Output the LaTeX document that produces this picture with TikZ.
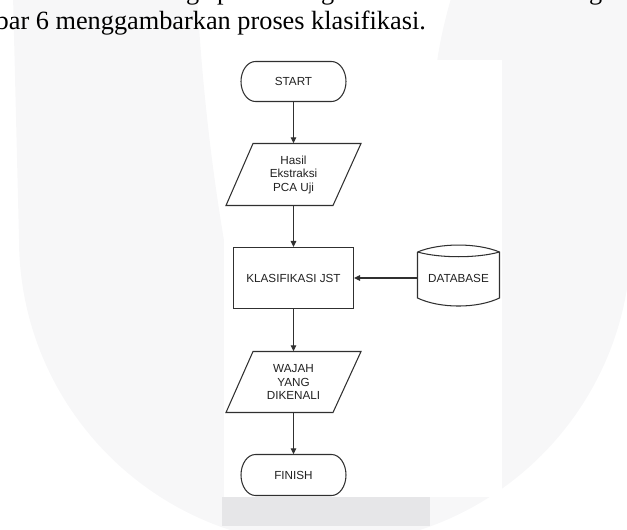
\documentclass[tikz,border=0pt]{standalone}
\usepackage{fontspec}
\setmainfont{Liberation Serif}
\newfontfamily\flowfont{Liberation Sans}
\usetikzlibrary{arrows.meta}
\definecolor{wm}{HTML}{F7F7F8}
\definecolor{stripgrey}{HTML}{E6E6E8}
\definecolor{ln}{HTML}{303030}
\definecolor{tx}{HTML}{222222}
\begin{document}
\begin{tikzpicture}[x=1pt,y=-1pt,
  flowtext/.style={font=\flowfont\fontsize{11.7}{13.5}\selectfont, text=tx, align=center, inner sep=0pt},
  outline/.style={draw=ln, line width=1.05pt},
  flowarrow/.style={draw=ln, line width=1.05pt, -{Triangle[length=6pt,width=5.5pt]}},
  bodytext/.style={font=\fontsize{26.3}{30}\selectfont, text=black, inner sep=0pt, anchor=base west}]
\useasboundingbox (0,0) rectangle (627,530);
\clip (0,0) rectangle (627,530);
% watermark
\fill[wm, even odd rule] (13,-5) -- (19,239) arc[start angle=180,end angle=360,radius=306pt] -- (640,-5) -- cycle
  (197,-5) .. controls (203,100) and (215,200) .. (235,300) -- (437,300) -- (437,62) .. controls (440,40) and (446,15) .. (452,-5) -- cycle;
% figure panel
\fill[white] (224,60) rectangle (502,497);
\fill[stripgrey] (222,497) rectangle (430,526);
% surrounding body text
\node[bodytext] (caption) at (-4.5,30) {bar 6 menggambarkan proses klasifikasi.};
\node[bodytext] (frag1) at (186,-1) {g};
\node[bodytext] (frag2) at (217,-1) {p};
\node[bodytext] (frag3) at (321,-1) {g};
\node[bodytext] (frag4) at (589,-1) {g};
% nodes
\node[flowtext, minimum width=105pt, minimum height=40pt] (start) at (293.5,81.5) {START};
\draw[outline] (255.5,61.5) -- (331.5,61.5) arc[start angle=90,end angle=-90,x radius=14.5pt,y radius=20pt]
  -- (255.5,101.5) arc[start angle=270,end angle=90,x radius=14.5pt,y radius=20pt] -- cycle;
\node[flowtext, minimum width=90pt, minimum height=62pt] (p1) at (293.5,174.5) {Hasil\\Ekstraksi\\PCA Uji};
\draw[outline] (253,143.5) -- (361,143.5) -- (333,205.5) -- (226,205.5) -- cycle;
\node[flowtext, outline, minimum width=120pt, minimum height=61pt] (cls) at (293.5,278) {KLASIFIKASI JST};
\node[flowtext, minimum width=90pt, minimum height=61pt] (p2) at (293.5,382) {WAJAH\\YANG\\DIKENALI};
\draw[outline] (253,351.5) -- (361,351.5) -- (333,412.5) -- (226,412.5) -- cycle;
\node[flowtext, minimum width=105pt, minimum height=41pt] (finish) at (293.5,475) {FINISH};
\draw[outline] (255.5,454.5) -- (331.5,454.5) arc[start angle=90,end angle=-90,x radius=14.5pt,y radius=20.5pt]
  -- (255.5,495.5) arc[start angle=270,end angle=90,x radius=14.5pt,y radius=20.5pt] -- cycle;
\node[flowtext, minimum width=82pt, minimum height=54pt] (db) at (458.5,278) {DATABASE};
\draw[outline] (417.5,252) -- (417.5,298) .. controls (440,308.7) and (477,308.7) .. (499.5,298) -- (499.5,252)
  .. controls (477,242.7) and (440,242.7) .. (417.5,252);
\draw[outline] (417.5,252) .. controls (440,258.3) and (477,258.3) .. (499.5,252);
% connectors
\draw[flowarrow] (start.south) -- (p1.north);
\draw[flowarrow] (p1.south) -- (cls.north);
\draw[flowarrow] (db.west) -- (cls.east);
\draw[flowarrow] (cls.south) -- (p2.north);
\draw[flowarrow] (p2.south) -- (finish.north);
\end{tikzpicture}
\end{document}
